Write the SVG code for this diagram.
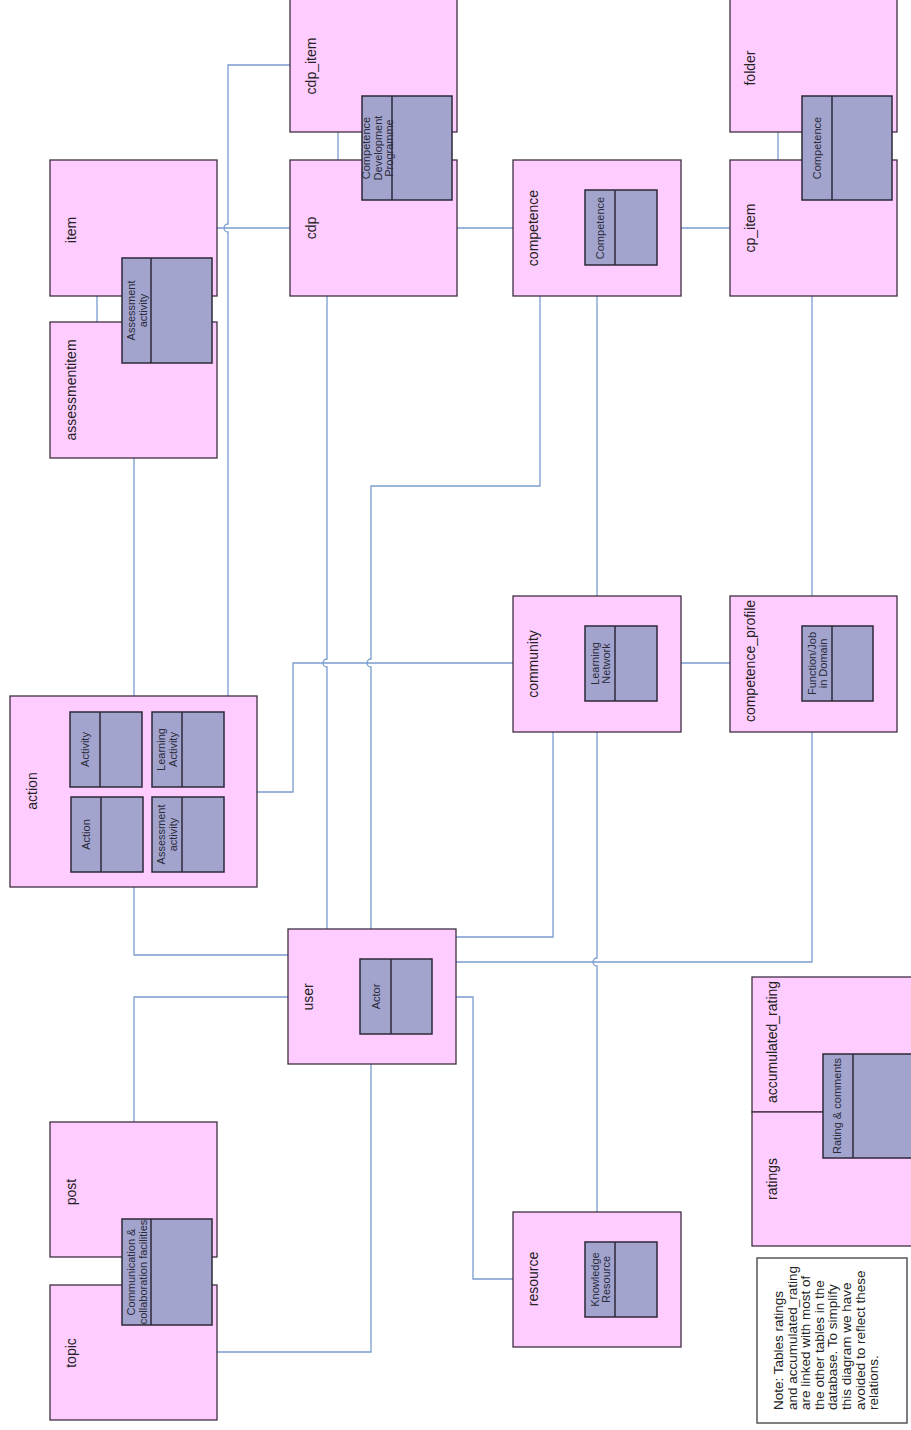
<svg xmlns="http://www.w3.org/2000/svg" width="911" height="1430" viewBox="0 0 911 1430">
<style>
.box{fill:#FFCCFF;stroke:#3f2f3f;stroke-width:1.3}
.inr{fill:#A2A4CE;stroke:#2c2838;stroke-width:1.5}
.div{stroke:#2c2838;stroke-width:1.5}
.lbl{font-family:"Liberation Sans",Arial,sans-serif;font-size:14px;fill:#222;text-anchor:middle}
.il{font-family:"Liberation Sans",Arial,sans-serif;font-size:11px;fill:#2a2a3a;text-anchor:middle}
.note{font-family:"Liberation Sans",Arial,sans-serif;font-size:13.5px;fill:#222}
.conn path{fill:none;stroke:#7A9CD0;stroke-width:1.3}
</style>
<rect width="911" height="1430" fill="#fff"/>
<g class="conn" id="connectors">
<path d="M290,65 H228 V224 a4,4 0 0 0 0,8 V696"/>
<path d="M217,228 H290"/>
<path d="M457,228 H513"/>
<path d="M681,228 H730"/>
<path d="M338,132 V160"/>
<path d="M778,132 V160"/>
<path d="M97,296 V322"/>
<path d="M134,458 V696"/>
<path d="M327,296 V659 a4,4 0 0 0 0,8 V929"/>
<path d="M540,296 V486 H371 V659 a4,4 0 0 0 0,8 V929"/>
<path d="M597,296 V596"/>
<path d="M597,732 V958 a4,4 0 0 0 0,8 V1212"/>
<path d="M553,732 V937 H456"/>
<path d="M456,962 H812 V732"/>
<path d="M812,596 V296"/>
<path d="M681,663 H730"/>
<path d="M257,792 H293 V663 H513"/>
<path d="M134,887 V955 H288"/>
<path d="M134,1122 V997 H288"/>
<path d="M371,1064 V1352 H217"/>
<path d="M456,997 H473 V1279 H513"/>
</g>
<g id="cdp_item"><rect class="box" x="290" y="-4" width="167" height="136"/><text class="lbl" transform="translate(316,66) rotate(-90)">cdp_item</text></g>
<g id="cdp"><rect class="box" x="290" y="160" width="167" height="136"/><text class="lbl" transform="translate(316,228) rotate(-90)">cdp</text></g>
<g id="cdp_inner"><rect class="inr" x="362" y="96" width="90" height="104"/><line class="div" x1="392" y1="96" x2="392" y2="200"/><text class="il" transform="translate(370,148) rotate(-90)"><tspan x="0" y="0">Competence</tspan><tspan x="0" dy="11.5">Development</tspan><tspan x="0" dy="11.5">Programme</tspan></text></g>
<g id="folder"><rect class="box" x="730" y="-4" width="167" height="136"/><text class="lbl" transform="translate(755,68) rotate(-90)">folder</text></g>
<g id="cp_item"><rect class="box" x="730" y="160" width="167" height="136"/><text class="lbl" transform="translate(755,228) rotate(-90)">cp_item</text></g>
<g id="cp_inner"><rect class="inr" x="802" y="96" width="90" height="104"/><line class="div" x1="832" y1="96" x2="832" y2="200"/><text class="il" transform="translate(821,148) rotate(-90)">Competence</text></g>
<g id="item"><rect class="box" x="50" y="160" width="167" height="136"/><text class="lbl" transform="translate(76,230) rotate(-90)">item</text></g>
<g id="assessmentitem"><rect class="box" x="50" y="322" width="167" height="136"/><text class="lbl" transform="translate(76,390) rotate(-90)">assessmentitem</text></g>
<g id="item_inner"><rect class="inr" x="122" y="258" width="90" height="105"/><line class="div" x1="151" y1="258" x2="151" y2="363"/><text class="il" transform="translate(135,310.5) rotate(-90)"><tspan x="0" y="0">Assessment</tspan><tspan x="0" dy="11.5">activity</tspan></text></g>
<g id="competence"><rect class="box" x="513" y="160" width="168" height="136"/><text class="lbl" transform="translate(538,228) rotate(-90)">competence</text><rect class="inr" x="585" y="190" width="72" height="75"/><line class="div" x1="615" y1="190" x2="615" y2="265"/><text class="il" transform="translate(604,228) rotate(-90)">Competence</text></g>
<g id="action"><rect class="box" x="10" y="696" width="247" height="191"/><text class="lbl" transform="translate(37,791) rotate(-90)">action</text>
<rect class="inr" x="70" y="712" width="72" height="75"/><line class="div" x1="100" y1="712" x2="100" y2="787"/><text class="il" transform="translate(89,749.5) rotate(-90)">Activity</text>
<rect class="inr" x="71" y="797" width="72" height="75"/><line class="div" x1="101" y1="797" x2="101" y2="872"/><text class="il" transform="translate(90,834.5) rotate(-90)">Action</text>
<rect class="inr" x="152" y="712" width="72" height="75"/><line class="div" x1="182" y1="712" x2="182" y2="787"/><text class="il" transform="translate(165,749.5) rotate(-90)"><tspan x="0" y="0">Learning</tspan><tspan x="0" dy="11.5">Activity</tspan></text>
<rect class="inr" x="152" y="797" width="72" height="75"/><line class="div" x1="182" y1="797" x2="182" y2="872"/><text class="il" transform="translate(165,834.5) rotate(-90)"><tspan x="0" y="0">Assessment</tspan><tspan x="0" dy="11.5">activity</tspan></text></g>
<g id="community"><rect class="box" x="513" y="596" width="168" height="136"/><text class="lbl" transform="translate(538,664) rotate(-90)">community</text><rect class="inr" x="585" y="626" width="72" height="75"/><line class="div" x1="615" y1="626" x2="615" y2="701"/><text class="il" transform="translate(598.5,663.5) rotate(-90)"><tspan x="0" y="0">Learning</tspan><tspan x="0" dy="11.5">Network</tspan></text></g>
<g id="competence_profile"><rect class="box" x="730" y="596" width="167" height="136"/><text class="lbl" transform="translate(755,661) rotate(-90)">competence_profile</text><rect class="inr" x="802" y="626" width="71" height="75"/><line class="div" x1="832" y1="626" x2="832" y2="701"/><text class="il" transform="translate(815.5,663.5) rotate(-90)"><tspan x="0" y="0">Function/Job</tspan><tspan x="0" dy="11.5">in Domain</tspan></text></g>
<g id="user"><rect class="box" x="288" y="929" width="168" height="135"/><text class="lbl" transform="translate(313,997) rotate(-90)">user</text><rect class="inr" x="360" y="959" width="72" height="75"/><line class="div" x1="391" y1="959" x2="391" y2="1034"/><text class="il" transform="translate(379.5,996.5) rotate(-90)">Actor</text></g>
<g id="resource"><rect class="box" x="513" y="1212" width="168" height="135"/><text class="lbl" transform="translate(538,1279) rotate(-90)">resource</text><rect class="inr" x="585" y="1242" width="72" height="75"/><line class="div" x1="615" y1="1242" x2="615" y2="1317"/><text class="il" transform="translate(598.5,1279.5) rotate(-90)"><tspan x="0" y="0">Knowledge</tspan><tspan x="0" dy="11.5">Resource</tspan></text></g>
<g id="post"><rect class="box" x="50" y="1122" width="167" height="135"/><text class="lbl" transform="translate(76,1192) rotate(-90)">post</text></g>
<g id="topic"><rect class="box" x="50" y="1285" width="167" height="135"/><text class="lbl" transform="translate(76,1353) rotate(-90)">topic</text></g>
<g id="post_inner"><rect class="inr" x="122" y="1219" width="90" height="106"/><line class="div" x1="151" y1="1219" x2="151" y2="1325"/><text class="il" transform="translate(135,1272) rotate(-90)"><tspan x="0" y="0">Communication &amp;</tspan><tspan x="0" dy="11.5">collaboration facilities</tspan></text></g>
<g id="accumulated_rating"><rect class="box" x="752" y="977" width="170" height="135"/><text class="lbl" transform="translate(777,1042) rotate(-90)">accumulated_rating</text></g>
<g id="ratings"><rect class="box" x="752" y="1112" width="170" height="134"/><text class="lbl" transform="translate(777,1179) rotate(-90)">ratings</text></g>
<g id="ratings_inner"><rect class="inr" x="823" y="1054" width="100" height="104"/><line class="div" x1="853" y1="1054" x2="853" y2="1158"/><text class="il" transform="translate(841,1106) rotate(-90)">Rating &amp; comments</text></g>
<g id="note"><rect x="757" y="1258" width="150" height="165" fill="#fff" stroke="#555" stroke-width="1.5"/><text class="note" transform="translate(783,1410) rotate(-90)"><tspan x="0" y="0">Note: Tables ratings</tspan><tspan x="0" dy="13.6">and accumulated_rating</tspan><tspan x="0" dy="13.6">are linked with most of</tspan><tspan x="0" dy="13.6">the other tables in the</tspan><tspan x="0" dy="13.6">database. To simplify</tspan><tspan x="0" dy="13.6">this diagram we have</tspan><tspan x="0" dy="13.6">avoided to reflect these</tspan><tspan x="0" dy="13.6">relations.</tspan></text></g>
</svg>
